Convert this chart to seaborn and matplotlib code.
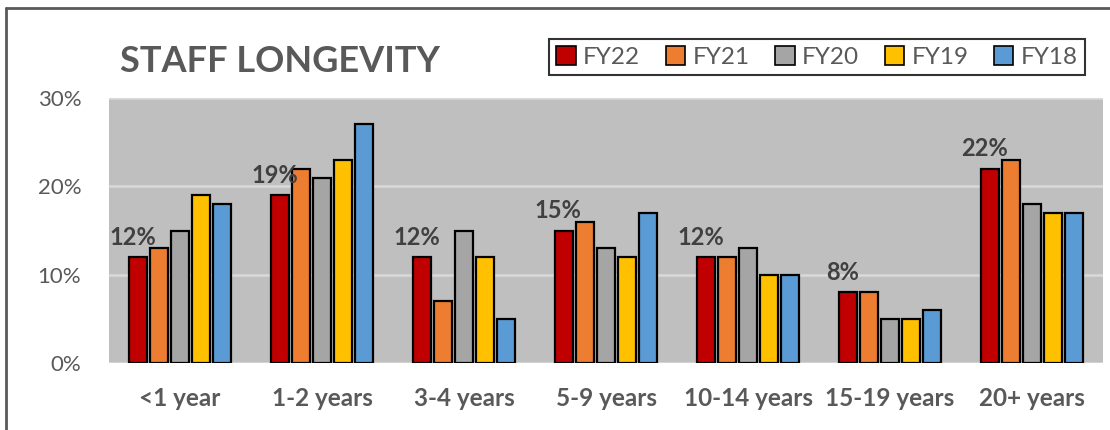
import matplotlib
matplotlib.use("Agg")
import matplotlib.pyplot as plt
from matplotlib.lines import Line2D
from matplotlib.patches import Patch
import seaborn as sns
import pandas as pd

# Tenure bands and share of staff per fiscal year (percent)
categories = ["<1 year", "1-2 years", "3-4 years", "5-9 years",
              "10-14 years", "15-19 years", "20+ years"]
years = ["FY22", "FY21", "FY20", "FY19", "FY18"]
fy22 = [12, 19, 12, 15, 12, 8, 22]
fy21 = [13, 22, 7, 16, 12, 8, 23]
fy20 = [15, 21, 15, 13, 13, 5, 18]
fy19 = [19, 23, 12, 12, 10, 5, 17]
fy18 = [18, 27, 5, 17, 10, 6, 17]
colors = ["#C00000", "#ED7D31", "#A5A5A5", "#FFC000", "#5B9BD5"]

series = {"FY22": fy22, "FY21": fy21, "FY20": fy20, "FY19": fy19, "FY18": fy18}
rows = []
for yr in years:
    for cat, v in zip(categories, series[yr]):
        rows.append({"Tenure": cat, "Year": yr, "Share": v})
df = pd.DataFrame(rows)

sns.set_theme(style="white")
plt.rcParams["font.family"] = ["Lato", "DejaVu Sans"]

fig = plt.figure(figsize=(11.1, 4.3), dpi=100)
ax = fig.add_axes([109 / 1110, 1 - 363 / 430, (1103 - 109) / 1110, (363 - 98) / 430])

sns.barplot(data=df, x="Tenure", y="Share", hue="Year", order=categories,
            hue_order=years, palette=colors, width=0.74, gap=0.1,
            edgecolor="black", linewidth=1.6, saturation=1, ax=ax, legend=False)

ax.set_facecolor("#BFBFBF")
ax.set_ylim(0, 30)
ax.set_xlim(-0.5, len(categories) - 0.5)
ax.set_yticks([0, 10, 20, 30])
ax.set_yticklabels(["0%", "10%", "20%", "30%"])
for y in [0, 10, 20, 30]:
    ax.axhline(y, color="#D9D9D9", lw=1.8, zorder=0.5)
for s in ax.spines.values():
    s.set_visible(False)
ax.tick_params(axis="y", length=0, pad=20, labelsize=16, labelcolor="#595959")
ax.tick_params(axis="x", length=0, pad=17, labelsize=17.5, labelcolor="#595959")
for t in ax.get_xticklabels():
    t.set_fontweight("bold")
ax.set_xlabel("")
ax.set_ylabel("")

# Value labels above the FY22 bars
fy22_bars = ax.containers[0]
for bar, v in zip(fy22_bars, fy22):
    ax.annotate(f"{v}%", (bar.get_x() + bar.get_width() / 2, bar.get_height()),
                xytext=(-4, 6), textcoords="offset points", ha="center", va="bottom",
                fontsize=17, fontweight="bold", color="#404040")

fig.text(120 / 1110, 1 - 62 / 430, "STAFF LONGEVITY", fontsize=26, fontweight="bold",
         color="#595959", ha="left", va="center")

handles = [Patch(facecolor=c, edgecolor="black", linewidth=1.2) for c in colors]
leg = fig.legend(handles, years, loc="center", bbox_to_anchor=(817 / 1110, 1 - 57 / 430),
                 ncol=5, frameon=True, fancybox=False, fontsize=17.5, handlelength=0.8,
                 handleheight=0.8, handletextpad=0.3, columnspacing=1.05,
                 borderpad=0.3, labelcolor="#595959")
leg.get_frame().set_edgecolor("black")
leg.get_frame().set_linewidth(1.5)

# Chart frame along the top and left edges
fig.add_artist(Line2D([6 / 1110, 6 / 1110], [0, 1 - 8 / 430], color="#595959", lw=2,
                      transform=fig.transFigure))
fig.add_artist(Line2D([6 / 1110, 1], [1 - 8 / 430, 1 - 8 / 430], color="#595959", lw=2,
                      transform=fig.transFigure))

fig.savefig("out.png", dpi=100, facecolor="white")
